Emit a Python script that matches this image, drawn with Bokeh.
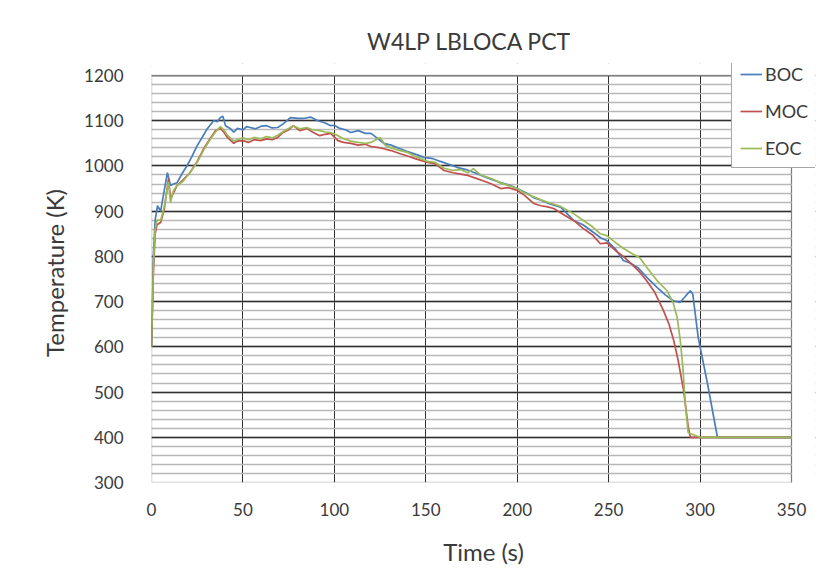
from bokeh.plotting import figure
from bokeh.models import Range1d, SingleIntervalTicker, Legend, LegendItem, BoxAnnotation
from bokeh.embed import file_html
from bokeh.resources import INLINE

# ---- data ----
boc_time = [0, 0.5, 1, 2, 3.3, 5, 6.5, 8.7, 10.4, 12,
            14, 17, 19.5, 22, 25, 28, 30.6, 34, 36, 37.7,
            39, 40.5, 43, 45, 47, 50, 52, 54, 57, 60,
            63, 66, 69, 72, 76, 80, 83, 87, 91, 95,
            98, 100, 103, 106, 109, 113, 117, 120, 124, 127,
            131, 136, 140, 145, 149, 154, 158, 163, 167, 172,
            176, 181, 186, 191, 196, 200, 205, 209, 213, 218,
            224, 231, 236, 241, 246, 249, 254, 258, 262, 266,
            271, 276.6, 281, 285.4, 289, 292, 294.7, 296, 299, 304,
            309.5, 320, 335, 350]
boc_temp = [600, 700, 800, 880, 912, 900, 935, 985, 957, 960,
            963, 985, 1001, 1020, 1045, 1065, 1083, 1100, 1098, 1107,
            1110, 1089, 1083, 1075, 1083, 1080, 1087, 1085, 1082, 1088,
            1089, 1084, 1085, 1093, 1107, 1105, 1105, 1108, 1100, 1095,
            1089, 1090, 1083, 1080, 1074, 1078, 1072, 1072, 1060, 1050,
            1046, 1038, 1032, 1025, 1019, 1016, 1010, 1003, 997, 992,
            986, 978, 970, 963, 957, 950, 940, 930, 924, 916,
            908, 879, 870, 855, 840, 835, 815, 791, 785, 775,
            753, 731, 715, 702, 698, 712, 724, 717, 620, 520,
            400, 400, 400, 400]

moc_time = [0, 0.5, 1, 2, 3, 5, 7, 9.3, 10.4, 12,
            14, 17, 21, 25, 28.5, 32, 35, 37.7, 39.5, 41.5,
            45, 47, 50, 53, 56, 59.6, 63, 66, 69, 72,
            75, 77.6, 81, 85, 88, 92, 95, 98, 102, 105,
            109, 113, 117, 120, 123.5, 127, 131, 136, 140, 145,
            151, 155, 160, 165, 169, 173, 178, 182, 186, 191,
            195, 200, 204, 209, 213, 216, 220, 225, 231, 236,
            241, 245.5, 249, 254, 258, 262, 267, 271, 275, 280,
            283, 285.6, 288, 291, 293.6, 294.7, 300, 310, 320, 335,
            350]
moc_temp = [600, 680, 760, 850, 870, 875, 905, 972, 928, 940,
            957, 968, 985, 1010, 1038, 1060, 1078, 1083, 1075, 1063,
            1050, 1055, 1056, 1052, 1058, 1056, 1060, 1058, 1063, 1074,
            1080, 1089, 1078, 1083, 1075, 1067, 1070, 1072, 1056, 1052,
            1050, 1046, 1048, 1043, 1041, 1038, 1034, 1027, 1022, 1015,
            1008, 1005, 990, 985, 982, 979, 972, 966, 960, 950,
            952, 946, 935, 917, 912, 910, 906, 893, 879, 862,
            848, 828, 830, 812, 800, 785, 765, 745, 722, 680,
            650, 614, 570, 503, 421, 400, 400, 400, 400, 400,
            400]

eoc_time = [0, 0.5, 1, 2, 3, 5, 7, 9.3, 10.4, 12,
            14, 17, 21, 25, 28.5, 32, 35, 37.7, 39.5, 41.5,
            45, 47, 50, 53, 56, 59.6, 63, 66, 69, 72,
            75, 77.6, 81, 85, 88, 92, 95, 98, 102, 105,
            109, 113, 117, 120, 125, 128, 131, 136, 140, 145,
            151, 155, 160, 165, 169, 173, 176, 180, 186, 191,
            195, 200, 204, 209, 213, 218, 224, 231, 236, 241,
            245.5, 249, 254, 258, 262, 267, 271, 276.6, 282, 285.4,
            287.5, 289, 290.5, 292, 293.5, 300, 310, 320, 335, 350]
eoc_temp = [600, 690, 780, 860, 880, 880, 910, 965, 919, 945,
            957, 965, 985, 1008, 1035, 1058, 1075, 1087, 1080, 1068,
            1055, 1058, 1062, 1058, 1063, 1060, 1065, 1062, 1068, 1076,
            1083, 1089, 1082, 1085, 1080, 1078, 1075, 1074, 1067, 1060,
            1055, 1052, 1050, 1052, 1063, 1045, 1040, 1034, 1030, 1020,
            1010, 1008, 995, 990, 992, 985, 994, 980, 972, 962,
            957, 950, 940, 932, 925, 918, 910, 894, 880, 866,
            850, 846, 830, 818, 808, 797, 775, 746, 724, 696,
            665, 620, 560, 470, 410, 400, 400, 400, 400, 400]

series_names = ["BOC", "MOC", "EOC"]
series_colors = ["#4A7EBB", "#C0504D", "#9BBB59"]

# axis extents of the chart
x_min, x_max = 0, 350
y_min, y_max = 300, 1200

# the legend box sticks out past the plot area's right and top edges,
# so the frame is made a little larger and the surplus is masked white
FRAME_L, FRAME_R, FRAME_T, FRAME_B = 151, 815, 63, 482
PLOT_R, PLOT_T = 791, 75
x_end = x_min + (x_max - x_min) * (FRAME_R - FRAME_L) / (PLOT_R - FRAME_L)
y_end = y_min + (y_max - y_min) * (FRAME_B - FRAME_T) / (FRAME_B - PLOT_T)

FONT = "Lato"
TXT = "#3a3a3a"

p = figure(width=828, height=583, output_backend="svg", toolbar_location=None,
           x_range=Range1d(x_min, x_end), y_range=Range1d(y_min, y_end),
           min_border_left=FRAME_L, min_border_right=828 - FRAME_R,
           min_border_top=FRAME_T, min_border_bottom=583 - FRAME_B)

p.title.text = "W4LP LBLOCA PCT"
p.title.text_font = FONT
p.title.text_font_size = "23px"
p.title.text_font_style = "normal"
p.title.text_color = TXT
p.title.align = "right"
p.title.offset = 244
p.title.standoff = 18

p.xaxis.ticker = SingleIntervalTicker(interval=50, num_minor_ticks=0)
p.yaxis.ticker = SingleIntervalTicker(interval=100, num_minor_ticks=5)
for ax in (p.xaxis[0], p.yaxis[0]):
    ax.axis_line_color = None
    ax.major_tick_line_color = None
    ax.minor_tick_line_color = None
    ax.major_label_text_font = FONT
    ax.major_label_text_font_size = "17px"
    ax.major_label_text_color = TXT
    ax.axis_label_text_font = FONT
    ax.axis_label_text_font_size = "24px"
    ax.axis_label_text_font_style = "normal"
    ax.axis_label_text_color = TXT
p.xaxis.axis_label = "Time (s)"
p.yaxis.axis_label = "Temperature (K)"
p.xaxis.major_label_standoff = 14
p.yaxis.major_label_standoff = 22
p.xaxis.axis_label_standoff = 18
p.yaxis.axis_label_standoff = 12

p.xgrid.grid_line_color = "#303030"
p.xgrid.grid_line_width = 1
p.ygrid.grid_line_color = "#303030"
p.ygrid.grid_line_width = 1.5
p.ygrid.minor_grid_line_color = "#b8b8b8"
p.ygrid.minor_grid_line_width = 1.5

p.outline_line_color = None
p.background_fill_color = "white"
p.border_fill_color = "white"

renderers = []
for t, v, c in zip([boc_time, moc_time, eoc_time], [boc_temp, moc_temp, eoc_temp], series_colors):
    r = p.line(t, v, line_color=c, line_width=1.7)
    renderers.append(r)

# white masks outside the chart's plot area, then the plot-area border
p.add_layout(BoxAnnotation(left=x_max, fill_color="white", fill_alpha=1, line_color=None))
p.add_layout(BoxAnnotation(bottom=y_max, fill_color="white", fill_alpha=1, line_color=None))
p.add_layout(BoxAnnotation(left=x_min, right=x_max, bottom=y_min, top=y_max,
                           fill_color=None, fill_alpha=0, line_color="#404040", line_width=1.5))

legend = Legend(items=[LegendItem(label=n, renderers=[r]) for n, r in zip(series_names, renderers)],
                location=(731 - FRAME_L, FRAME_B - 168))
legend.label_text_font = FONT
legend.label_text_font_size = "18px"
legend.label_text_color = TXT
legend.glyph_width = 22
legend.glyph_height = 20
legend.label_height = 20
legend.spacing = 15
legend.padding = 8
legend.margin = 0
legend.label_standoff = 3
legend.border_line_color = "#505050"
legend.border_line_width = 1.5
legend.background_fill_color = "white"
legend.background_fill_alpha = 1
p.add_layout(legend, "center")

open("out.html", "w").write(file_html(p, INLINE))
